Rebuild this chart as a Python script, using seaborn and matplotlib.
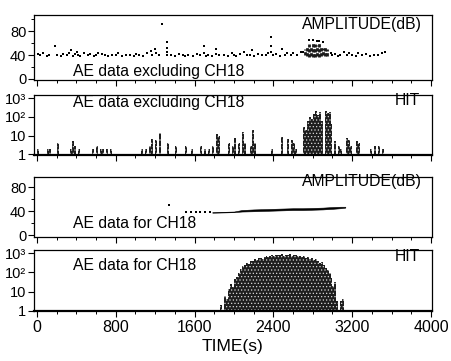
import matplotlib
matplotlib.use("Agg")
import matplotlib.pyplot as plt
import seaborn as sns
import pandas as pd
from matplotlib.ticker import MultipleLocator, FixedLocator, FixedFormatter, LogLocator, NullFormatter

# ---------------- data ----------------
# Amplitude of AE hits, all channels except CH18 (time in s, amplitude in dB)
amp_ex_t = [10, 30, 60, 100, 120, 180, 200, 240, 260, 300,
            330, 350, 370, 390, 410, 420, 440, 480, 520, 540,
            580, 600, 620, 660, 690, 720, 760, 800, 820, 860,
            900, 940, 980, 1010, 1040, 1080, 1120, 1160, 1170, 1200,
            1210, 1240, 1270, 1320, 1320, 1320, 1320, 1360, 1400, 1440,
            1480, 1500, 1530, 1580, 1620, 1660, 1700, 1700, 1720, 1740,
            1780, 1820, 1820, 1850, 1900, 1940, 1980, 2000, 2020, 2060,
            2100, 2130, 2160, 2180, 2200, 2240, 2280, 2320, 2350, 2380,
            2380, 2380, 2400, 2430, 2470, 2490, 2520, 2540, 2580, 2600,
            2640, 2680, 2980, 3000, 3030, 3060, 3080, 3120, 3150, 3170,
            3200, 3240, 3260, 3300, 3340, 3380, 3420, 3460, 3500, 3530,
            2760, 2800, 2840, 2860, 2900, 2700]
amp_ex_db = [42, 40, 43, 39, 41, 55, 40, 38, 42, 41,
             44, 48, 39, 42, 45, 41, 38, 43, 40, 42,
             39, 41, 43, 42, 40, 38, 41, 40, 43, 39,
             41, 40, 38, 42, 40, 39, 43, 47, 41, 50,
             44, 40, 93, 62, 52, 45, 40, 41, 39, 42,
             40, 38, 41, 39, 42, 40, 55, 44, 38, 41,
             39, 50, 42, 40, 41, 38, 43, 41, 39, 42,
             46, 40, 41, 48, 39, 42, 40, 41, 43, 70,
             55, 45, 40, 42, 39, 50, 41, 44, 40, 43,
             41, 45, 44, 40, 42, 39, 41, 46, 40, 43,
             41, 39, 44, 40, 42, 38, 41, 40, 43, 45,
             65, 66, 63, 64, 62, 45]

# Dense burst of hits (amplitude spread per time step)
burst_t = [2720, 2740, 2760, 2780, 2800, 2820, 2840, 2860, 2880, 2900, 2920, 2940]
burst_lo = [40, 38, 37, 38, 36, 37, 38, 37, 38, 40, 38, 39]
burst_hi = [50, 55, 58, 56, 60, 58, 57, 60, 55, 52, 56, 50]

# Hit counts per 20 s, all channels except CH18
hit_ex_t = [0, 100, 120, 200, 340, 360, 380, 420, 560, 600,
            640, 660, 700, 740, 1060, 1100, 1140, 1160, 1200, 1240,
            1320, 1400, 1500, 1560, 1660, 1700, 1740, 1780, 1820, 1840,
            1940, 1980, 2000, 2040, 2080, 2100, 2160, 2180, 2200, 2380,
            2480, 2540, 2580, 2600, 2620, 2700, 2720, 2740, 2760, 2780,
            2800, 2820, 2840, 2860, 2880, 2920, 2940, 2960, 2980, 3020,
            3060, 3080, 3140, 3160, 3180, 3240, 3260, 3380, 3420, 3460,
            3500]
hit_ex_n = [2, 2, 2, 4, 2, 5, 3, 2, 2, 3,
            2, 2, 2, 2, 2, 2, 3, 7, 6, 14,
            4, 3, 3, 2, 3, 2, 2, 3, 12, 10,
            4, 3, 8, 4, 15, 4, 3, 20, 4, 2,
            9, 7, 6, 4, 2, 30, 20, 60, 100, 80,
            150, 200, 120, 180, 60, 200, 170, 180, 40, 5,
            3, 2, 8, 6, 3, 5, 4, 2, 3, 3,
            2]

# Amplitude of CH18 hits
ch18_amp_t = [1340, 1510, 1560, 1610, 1660, 1710, 1760]
ch18_amp_db = [50, 38, 38, 38, 38, 38, 38]
ch18_band_t = [1780, 1900, 2000, 2080, 2200, 2300, 2400, 2500, 2600, 2700, 2800, 2900, 3000, 3080, 3130]
ch18_band_lo = [37.5, 38, 38.5, 39.5, 40, 40.5, 41, 41.5, 42, 42, 42.5, 43, 44, 45, 46]
ch18_band_hi = [38.5, 39, 39.5, 42, 43, 43.5, 44, 44.5, 45, 45, 45.5, 46, 47, 47.5, 47.5]

# Hit counts per 20 s, CH18
hit_18_t = list(range(1840, 3140, 20))
hit_18_n = [1, 2, 1, 6, 4, 14, 25, 18, 45, 60,
            90, 150, 220, 260, 300, 280, 380, 420, 480, 450,
            560, 600, 520, 650, 700, 620, 750, 800, 720, 850,
            780, 820, 900, 760, 850, 800, 880, 740, 820, 780,
            700, 760, 650, 700, 600, 640, 520, 560, 450, 480,
            380, 320, 340, 240, 180, 140, 90, 50, 20, 30,
            3, 1, 3, 4, 1]

x_ticks = [0, 800, 1600, 2400, 3200, 4000]
log_ticks = [1, 10, 100, 1000]
log_labels = ["1", "10", "10\u00b2", "10\u00b3"]

# ---------------- figure ----------------
sns.set_style("ticks")
plt.rcParams["font.family"] = ["Liberation Sans", "DejaVu Sans"]
plt.rcParams["hatch.linewidth"] = 0.5
for key in ("text.color", "axes.labelcolor", "xtick.color", "ytick.color",
            "xtick.labelcolor", "ytick.labelcolor"):
    plt.rcParams[key] = "black"

fig = plt.figure(figsize=(4.52, 3.61), dpi=100)
L, W = 34 / 452, 398 / 452
ax1 = fig.add_axes([L, 0.778, W, 0.180])
ax2 = fig.add_axes([L, 0.571, W, 0.166])
ax3 = fig.add_axes([L, 0.3435, W, 0.166])
ax4 = fig.add_axes([L, 0.1385, W, 0.169])

FS = 11.3      # in-panel captions
YFS = 10.5     # y tick labels
XFS = 11.5     # x tick labels


def style(ax, bottom=False):
    ax.set_xlim(-30, 4010)
    ax.xaxis.set_major_locator(FixedLocator(x_ticks))
    ax.xaxis.set_minor_locator(MultipleLocator(200))
    ax.tick_params(which="major", direction="out", length=4, width=0.8,
                   pad=2.5, color="black", labelcolor="black")
    ax.tick_params(axis="x", labelsize=XFS)
    ax.tick_params(axis="y", labelsize=YFS, pad=1.5)
    ax.tick_params(which="minor", direction="out", length=2.5, width=0.7, color="black")
    if not bottom:
        ax.tick_params(axis="x", labelbottom=False)
    for s in ax.spines.values():
        s.set_linewidth(0.9)
        s.set_color("black")
    ax.set_xlabel("")
    ax.set_ylabel("")


def style_amp(ax, ylim):
    ax.set_ylim(*ylim)
    ax.yaxis.set_major_locator(FixedLocator([0, 40, 80]))
    ax.yaxis.set_minor_locator(MultipleLocator(20))


def style_hit(ax):
    ax.set_yscale("log")
    ax.set_ylim(0.95, 1500)
    ax.yaxis.set_major_locator(FixedLocator(log_ticks))
    ax.yaxis.set_major_formatter(FixedFormatter(log_labels))
    ax.yaxis.set_minor_locator(LogLocator(base=10, subs=range(2, 10)))
    ax.yaxis.set_minor_formatter(NullFormatter())
    ax.spines["bottom"].set_linewidth(1.6)


bar_kws = dict(color="#1e1e1e", edgecolor="#d8d8d8", linewidth=0, hatch=".....", alpha=1)

# Panel 1: amplitude, excluding CH18
df1 = pd.DataFrame({"t": amp_ex_t, "db": amp_ex_db})
sns.scatterplot(data=df1, x="t", y="db", ax=ax1, marker="s", s=3, color="black",
                linewidth=0, legend=False)
ax1.vlines(burst_t, burst_lo, burst_hi, colors="#1a1a1a", linewidth=2.0, linestyles=(0, (1.2, 0.6)))
style(ax1)
style_amp(ax1, (-2, 107))
ax1.text(0.975, 0.85, "AMPLITUDE(dB)", transform=ax1.transAxes, ha="right", va="center", fontsize=FS)
ax1.text(0.098, 0.13, "AE data excluding CH18", transform=ax1.transAxes, ha="left", va="center", fontsize=FS)

# Panel 2: hits, excluding CH18
sns.histplot(x=hit_ex_t, weights=hit_ex_n, binwidth=20, binrange=(0, 4000), ax=ax2, **bar_kws)
style(ax2)
style_hit(ax2)
ax2.text(0.97, 0.91, "HIT", transform=ax2.transAxes, ha="right", va="center", fontsize=FS)
ax2.text(0.098, 0.87, "AE data excluding CH18", transform=ax2.transAxes, ha="left", va="center", fontsize=FS)

# Panel 3: amplitude, CH18
df3 = pd.DataFrame({"t": ch18_amp_t, "db": ch18_amp_db})
sns.scatterplot(data=df3, x="t", y="db", ax=ax3, marker="s", s=3, color="black",
                linewidth=0, legend=False)
ax3.fill_between(ch18_band_t, ch18_band_lo, ch18_band_hi, color="black", linewidth=0.4)
style(ax3)
style_amp(ax3, (-3, 97))
ax3.text(0.975, 0.93, "AMPLITUDE(dB)", transform=ax3.transAxes, ha="right", va="center", fontsize=FS)
ax3.text(0.098, 0.23, "AE data for CH18", transform=ax3.transAxes, ha="left", va="center", fontsize=FS)

# Panel 4: hits, CH18
sns.histplot(x=hit_18_t, weights=hit_18_n, binwidth=20, binrange=(0, 4000), ax=ax4, **bar_kws)
style(ax4, bottom=True)
style_hit(ax4)
ax4.set_xlabel("TIME(s)", fontsize=12.5, labelpad=3)
ax4.text(0.97, 0.89, "HIT", transform=ax4.transAxes, ha="right", va="center", fontsize=FS)
ax4.text(0.098, 0.74, "AE data for CH18", transform=ax4.transAxes, ha="left", va="center", fontsize=FS)

fig.savefig("out.png", dpi=100)
